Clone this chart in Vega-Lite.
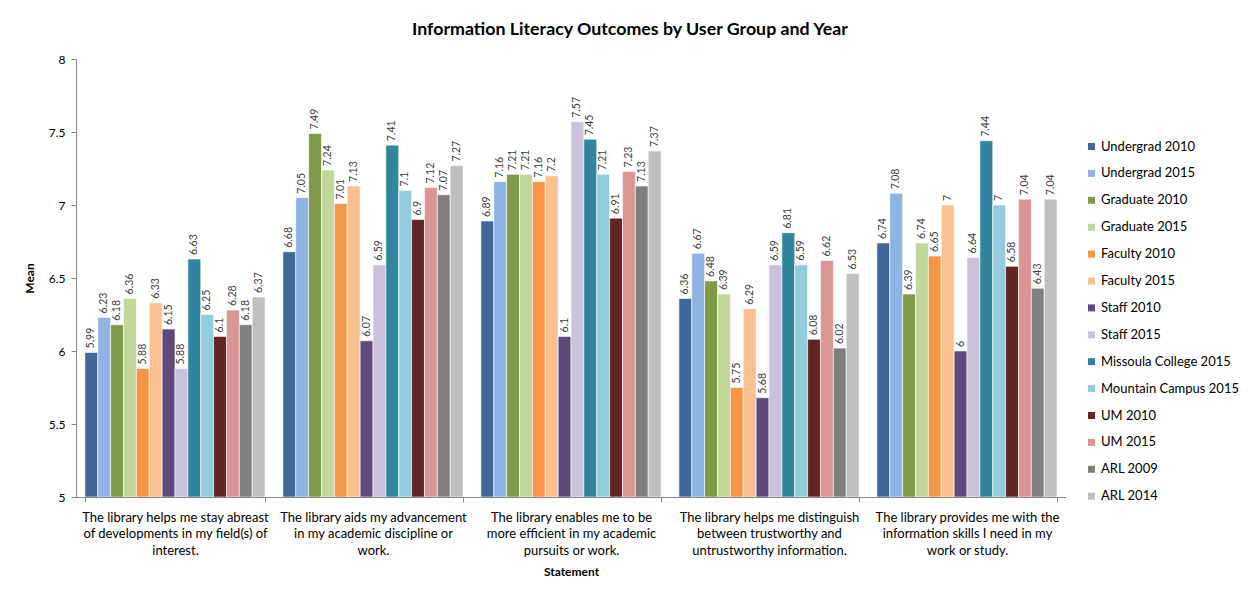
{
  "$schema": "https://vega.github.io/schema/vega-lite/v6.json",
  "autosize": "none",
  "width": 990,
  "height": 438,
  "padding": {"left": 76, "top": 59, "right": 184, "bottom": 95},
  "background": "white",
  "config": {
    "font": "Lato",
    "view": {"stroke": null},
    "axis": {"grid": false, "domainColor": "#868686", "tickColor": "#868686", "labelColor": "#000000", "titleColor": "#000000", "labelFont": "Lato", "titleFont": "Lato"}
  },
  "title": {"text": "Information Literacy Outcomes by User Group and Year", "fontSize": 17.8, "fontWeight": "bold", "font": "Lato", "color": "#000000", "anchor": "middle", "dx": 59, "offset": 14},
  "data": {"values": [
    {"statement": "The library helps me stay abreast of developments in my field(s) of interest.", "group": "Undergrad 2010", "mean": 5.99},
    {"statement": "The library helps me stay abreast of developments in my field(s) of interest.", "group": "Undergrad 2015", "mean": 6.23},
    {"statement": "The library helps me stay abreast of developments in my field(s) of interest.", "group": "Graduate 2010", "mean": 6.18},
    {"statement": "The library helps me stay abreast of developments in my field(s) of interest.", "group": "Graduate 2015", "mean": 6.36},
    {"statement": "The library helps me stay abreast of developments in my field(s) of interest.", "group": "Faculty 2010", "mean": 5.88},
    {"statement": "The library helps me stay abreast of developments in my field(s) of interest.", "group": "Faculty 2015", "mean": 6.33},
    {"statement": "The library helps me stay abreast of developments in my field(s) of interest.", "group": "Staff 2010", "mean": 6.15},
    {"statement": "The library helps me stay abreast of developments in my field(s) of interest.", "group": "Staff 2015", "mean": 5.88},
    {"statement": "The library helps me stay abreast of developments in my field(s) of interest.", "group": "Missoula College 2015", "mean": 6.63},
    {"statement": "The library helps me stay abreast of developments in my field(s) of interest.", "group": "Mountain Campus 2015", "mean": 6.25},
    {"statement": "The library helps me stay abreast of developments in my field(s) of interest.", "group": "UM 2010", "mean": 6.1},
    {"statement": "The library helps me stay abreast of developments in my field(s) of interest.", "group": "UM 2015", "mean": 6.28},
    {"statement": "The library helps me stay abreast of developments in my field(s) of interest.", "group": "ARL 2009", "mean": 6.18},
    {"statement": "The library helps me stay abreast of developments in my field(s) of interest.", "group": "ARL 2014", "mean": 6.37},
    {"statement": "The library aids my advancement in my academic discipline or work.", "group": "Undergrad 2010", "mean": 6.68},
    {"statement": "The library aids my advancement in my academic discipline or work.", "group": "Undergrad 2015", "mean": 7.05},
    {"statement": "The library aids my advancement in my academic discipline or work.", "group": "Graduate 2010", "mean": 7.49},
    {"statement": "The library aids my advancement in my academic discipline or work.", "group": "Graduate 2015", "mean": 7.24},
    {"statement": "The library aids my advancement in my academic discipline or work.", "group": "Faculty 2010", "mean": 7.01},
    {"statement": "The library aids my advancement in my academic discipline or work.", "group": "Faculty 2015", "mean": 7.13},
    {"statement": "The library aids my advancement in my academic discipline or work.", "group": "Staff 2010", "mean": 6.07},
    {"statement": "The library aids my advancement in my academic discipline or work.", "group": "Staff 2015", "mean": 6.59},
    {"statement": "The library aids my advancement in my academic discipline or work.", "group": "Missoula College 2015", "mean": 7.41},
    {"statement": "The library aids my advancement in my academic discipline or work.", "group": "Mountain Campus 2015", "mean": 7.1},
    {"statement": "The library aids my advancement in my academic discipline or work.", "group": "UM 2010", "mean": 6.9},
    {"statement": "The library aids my advancement in my academic discipline or work.", "group": "UM 2015", "mean": 7.12},
    {"statement": "The library aids my advancement in my academic discipline or work.", "group": "ARL 2009", "mean": 7.07},
    {"statement": "The library aids my advancement in my academic discipline or work.", "group": "ARL 2014", "mean": 7.27},
    {"statement": "The library enables me to be more efficient in my academic pursuits or work.", "group": "Undergrad 2010", "mean": 6.89},
    {"statement": "The library enables me to be more efficient in my academic pursuits or work.", "group": "Undergrad 2015", "mean": 7.16},
    {"statement": "The library enables me to be more efficient in my academic pursuits or work.", "group": "Graduate 2010", "mean": 7.21},
    {"statement": "The library enables me to be more efficient in my academic pursuits or work.", "group": "Graduate 2015", "mean": 7.21},
    {"statement": "The library enables me to be more efficient in my academic pursuits or work.", "group": "Faculty 2010", "mean": 7.16},
    {"statement": "The library enables me to be more efficient in my academic pursuits or work.", "group": "Faculty 2015", "mean": 7.2},
    {"statement": "The library enables me to be more efficient in my academic pursuits or work.", "group": "Staff 2010", "mean": 6.1},
    {"statement": "The library enables me to be more efficient in my academic pursuits or work.", "group": "Staff 2015", "mean": 7.57},
    {"statement": "The library enables me to be more efficient in my academic pursuits or work.", "group": "Missoula College 2015", "mean": 7.45},
    {"statement": "The library enables me to be more efficient in my academic pursuits or work.", "group": "Mountain Campus 2015", "mean": 7.21},
    {"statement": "The library enables me to be more efficient in my academic pursuits or work.", "group": "UM 2010", "mean": 6.91},
    {"statement": "The library enables me to be more efficient in my academic pursuits or work.", "group": "UM 2015", "mean": 7.23},
    {"statement": "The library enables me to be more efficient in my academic pursuits or work.", "group": "ARL 2009", "mean": 7.13},
    {"statement": "The library enables me to be more efficient in my academic pursuits or work.", "group": "ARL 2014", "mean": 7.37},
    {"statement": "The library helps me distinguish between trustworthy and untrustworthy information.", "group": "Undergrad 2010", "mean": 6.36},
    {"statement": "The library helps me distinguish between trustworthy and untrustworthy information.", "group": "Undergrad 2015", "mean": 6.67},
    {"statement": "The library helps me distinguish between trustworthy and untrustworthy information.", "group": "Graduate 2010", "mean": 6.48},
    {"statement": "The library helps me distinguish between trustworthy and untrustworthy information.", "group": "Graduate 2015", "mean": 6.39},
    {"statement": "The library helps me distinguish between trustworthy and untrustworthy information.", "group": "Faculty 2010", "mean": 5.75},
    {"statement": "The library helps me distinguish between trustworthy and untrustworthy information.", "group": "Faculty 2015", "mean": 6.29},
    {"statement": "The library helps me distinguish between trustworthy and untrustworthy information.", "group": "Staff 2010", "mean": 5.68},
    {"statement": "The library helps me distinguish between trustworthy and untrustworthy information.", "group": "Staff 2015", "mean": 6.59},
    {"statement": "The library helps me distinguish between trustworthy and untrustworthy information.", "group": "Missoula College 2015", "mean": 6.81},
    {"statement": "The library helps me distinguish between trustworthy and untrustworthy information.", "group": "Mountain Campus 2015", "mean": 6.59},
    {"statement": "The library helps me distinguish between trustworthy and untrustworthy information.", "group": "UM 2010", "mean": 6.08},
    {"statement": "The library helps me distinguish between trustworthy and untrustworthy information.", "group": "UM 2015", "mean": 6.62},
    {"statement": "The library helps me distinguish between trustworthy and untrustworthy information.", "group": "ARL 2009", "mean": 6.02},
    {"statement": "The library helps me distinguish between trustworthy and untrustworthy information.", "group": "ARL 2014", "mean": 6.53},
    {"statement": "The library provides me with the information skills I need in my work or study.", "group": "Undergrad 2010", "mean": 6.74},
    {"statement": "The library provides me with the information skills I need in my work or study.", "group": "Undergrad 2015", "mean": 7.08},
    {"statement": "The library provides me with the information skills I need in my work or study.", "group": "Graduate 2010", "mean": 6.39},
    {"statement": "The library provides me with the information skills I need in my work or study.", "group": "Graduate 2015", "mean": 6.74},
    {"statement": "The library provides me with the information skills I need in my work or study.", "group": "Faculty 2010", "mean": 6.65},
    {"statement": "The library provides me with the information skills I need in my work or study.", "group": "Faculty 2015", "mean": 7},
    {"statement": "The library provides me with the information skills I need in my work or study.", "group": "Staff 2010", "mean": 6},
    {"statement": "The library provides me with the information skills I need in my work or study.", "group": "Staff 2015", "mean": 6.64},
    {"statement": "The library provides me with the information skills I need in my work or study.", "group": "Missoula College 2015", "mean": 7.44},
    {"statement": "The library provides me with the information skills I need in my work or study.", "group": "Mountain Campus 2015", "mean": 7},
    {"statement": "The library provides me with the information skills I need in my work or study.", "group": "UM 2010", "mean": 6.58},
    {"statement": "The library provides me with the information skills I need in my work or study.", "group": "UM 2015", "mean": 7.04},
    {"statement": "The library provides me with the information skills I need in my work or study.", "group": "ARL 2009", "mean": 6.43},
    {"statement": "The library provides me with the information skills I need in my work or study.", "group": "ARL 2014", "mean": 7.04}
  ]},
  "encoding": {
    "x": {
      "field": "statement", "type": "nominal", "sort": null,
      "scale": {"paddingInner": 0.09, "paddingOuter": 0.045},
      "axis": {
        "title": "Statement", "titleFontSize": 12, "titleFontWeight": "bold", "titlePadding": 9,
        "labelAngle": 0, "labelFontSize": 13, "labelLineHeight": 16.5, "labelPadding": 9, "labelLimit": 0,
        "tickBand": "extent", "tickSize": 5, "labelBaseline": "top",
        "labelExpr": "datum.value == 'The library helps me stay abreast of developments in my field(s) of interest.' ? ['The library helps me stay abreast', 'of developments in my field(s) of', 'interest.'] : datum.value == 'The library aids my advancement in my academic discipline or work.' ? ['The library aids my advancement', 'in my academic discipline or', 'work.'] : datum.value == 'The library enables me to be more efficient in my academic pursuits or work.' ? ['The library enables me to be', 'more efficient in my academic', 'pursuits or work.'] : datum.value == 'The library helps me distinguish between trustworthy and untrustworthy information.' ? ['The library helps me distinguish', 'between trustworthy and', 'untrustworthy information.'] : datum.value == 'The library provides me with the information skills I need in my work or study.' ? ['The library provides me with the', 'information skills I need in my', 'work or study.'] : ''"
      }
    },
    "xOffset": {
      "field": "group", "type": "nominal",
      "sort": ["Undergrad 2010", "Undergrad 2015", "Graduate 2010", "Graduate 2015", "Faculty 2010", "Faculty 2015", "Staff 2010", "Staff 2015", "Missoula College 2015", "Mountain Campus 2015", "UM 2010", "UM 2015", "ARL 2009", "ARL 2014"],
      "scale": {"paddingInner": 0, "paddingOuter": 0}
    }
  },
  "layer": [
    {
      "mark": {"type": "bar", "stroke": "white", "strokeWidth": 0.6, "clip": true},
      "encoding": {
        "y": {
          "field": "mean", "type": "quantitative",
          "scale": {"domain": [5, 8], "zero": false, "nice": false},
          "axis": {"title": "Mean", "titleFontSize": 12, "titleFontWeight": "bold", "titlePadding": 12, "labelFontSize": 12, "labelPadding": 6, "tickSize": 5, "values": [5, 5.5, 6, 6.5, 7, 7.5, 8], "labelExpr": "'' + datum.value"}
        },
        "y2": {"datum": 5},
        "color": {
          "field": "group", "type": "nominal",
          "scale": {
            "domain": ["Undergrad 2010", "Undergrad 2015", "Graduate 2010", "Graduate 2015", "Faculty 2010", "Faculty 2015", "Staff 2010", "Staff 2015", "Missoula College 2015", "Mountain Campus 2015", "UM 2010", "UM 2015", "ARL 2009", "ARL 2014"],
            "range": ["#3F6899", "#8EB4E3", "#7F9A48", "#C3D69B", "#F79646", "#FAC090", "#604A7B", "#CCC1DA", "#31859C", "#93CDDD", "#632523", "#D99694", "#7F7F7F", "#BFBFBF"]
          },
          "legend": {
            "title": null, "orient": "none", "legendX": 1009, "legendY": 81,
            "symbolType": "square", "symbolSize": 49, "symbolStrokeWidth": 0,
            "labelFontSize": 13, "labelFont": "Lato", "labelColor": "#000000", "labelOffset": 3, "rowPadding": 12.9, "labelLimit": 200
          }
        }
      }
    },
    {
      "mark": {"type": "text", "angle": 270, "align": "left", "baseline": "middle", "dx": 4, "fontSize": 10.5, "font": "Lato", "color": "#404040"},
      "encoding": {
        "y": {"field": "mean", "type": "quantitative"},
        "text": {"field": "mean", "type": "nominal"}
      }
    }
  ]
}
